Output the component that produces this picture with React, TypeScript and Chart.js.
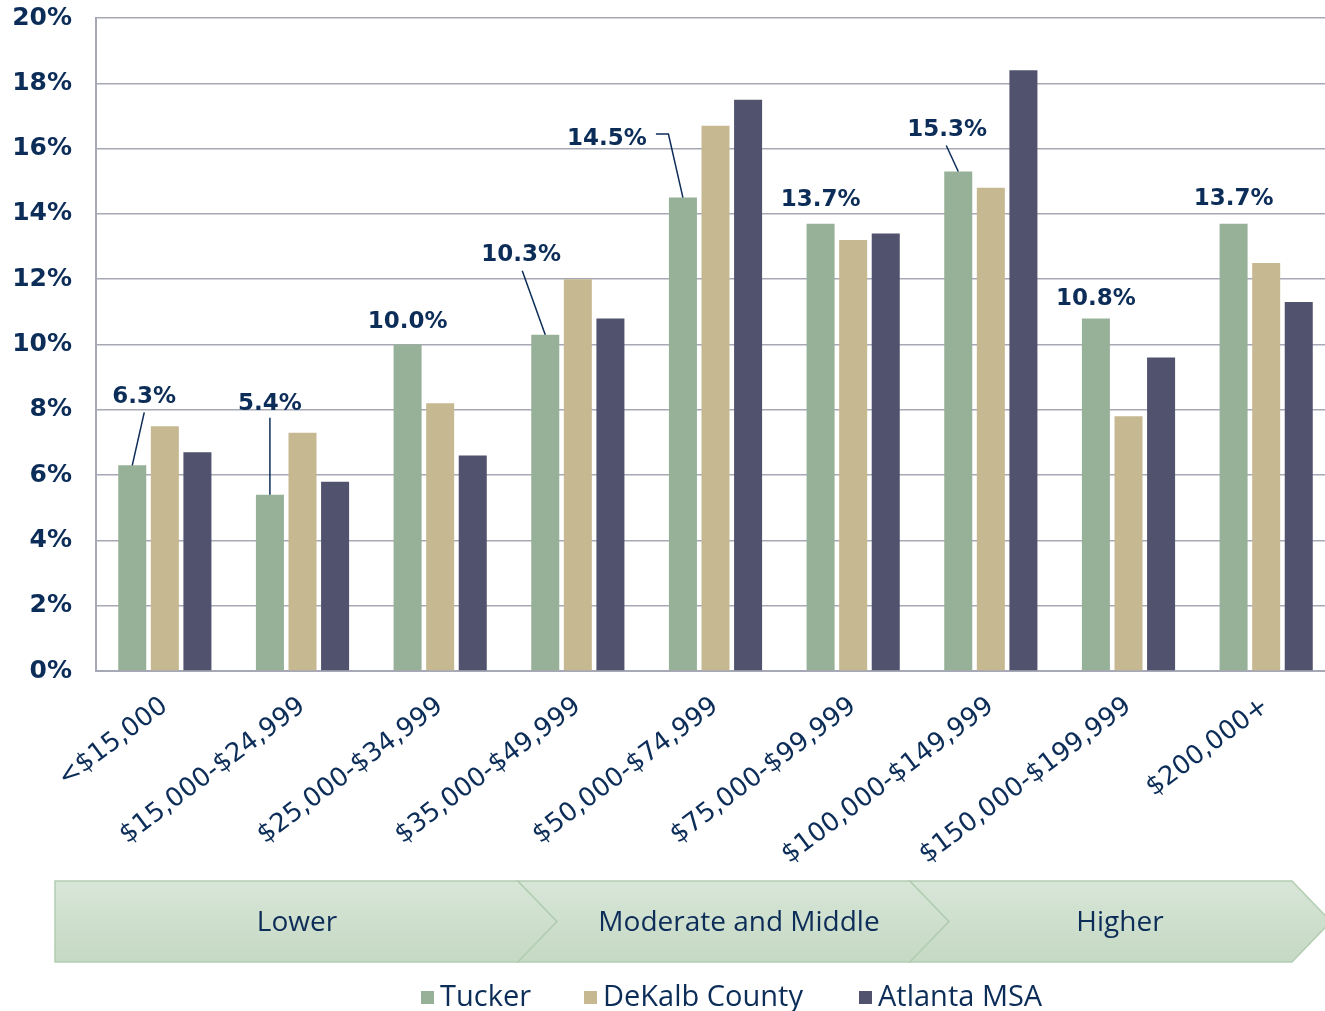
import React, { useEffect, useRef } from "react";
import { Chart, registerables } from "chart.js";

Chart.register(...registerables);

const categories = [
  "<$15,000",
  "$15,000-$24,999",
  "$25,000-$34,999",
  "$35,000-$49,999",
  "$50,000-$74,999",
  "$75,000-$99,999",
  "$100,000-$149,999",
  "$150,000-$199,999",
  "$200,000+",
];
const seriesNames = ["Tucker", "DeKalb County", "Atlanta MSA"];
const tucker = [6.3, 5.4, 10.0, 10.3, 14.5, 13.7, 15.3, 10.8, 13.7];
const dekalb = [7.5, 7.3, 8.2, 12.0, 16.7, 13.2, 14.8, 7.8, 12.5];
const atlanta = [6.7, 5.8, 6.6, 10.8, 17.5, 13.4, 18.4, 9.6, 11.3];
const yMin = 0;
const yMax = 20;
const yStep = 2;
const bandLabels = ["Lower", "Moderate and Middle", "Higher"];

const NAVY = "#0C2D58";
const COLORS = ["#97B098", "#C6B891", "#51526D"];
const GRID = "#A7A8B6";

// label placement relative to Tucker bar top (styling only)
const labelMarks: { dx: number; dy: number; line?: number[][] }[] = [
  { dx: 12, dy: -70, line: [[0, 0], [12, -53]] },
  { dx: 0, dy: -93, line: [[0, 0], [0, -77]] },
  { dx: 0, dy: -25 },
  { dx: -24, dy: -82, line: [[0, 0], [-23, -64]] },
  { dx: -76, dy: -61, line: [[0, 0], [-14.5, -63.5], [-27, -63.5]] },
  { dx: 0, dy: -26 },
  { dx: -11, dy: -43, line: [[0, 0], [-12, -26]] },
  { dx: 0, dy: -21 },
  { dx: 0, dy: -27 },
];

const overlayPlugin = {
  id: "overlay",
  afterDraw(chart: any) {
    const ctx = chart.ctx as CanvasRenderingContext2D;
    ctx.save();
    // data labels for Tucker
    const meta = chart.getDatasetMeta(0);
    ctx.font = "bold 23px 'DejaVu Sans'";
    ctx.fillStyle = NAVY;
    ctx.strokeStyle = NAVY;
    ctx.lineWidth = 1.5;
    ctx.textAlign = "center";
    ctx.textBaseline = "alphabetic";
    meta.data.forEach((bar: any, i: number) => {
      const m = labelMarks[i];
      const bx = bar.x;
      const by = bar.y;
      if (m.line) {
        ctx.beginPath();
        m.line.forEach((p, k) => {
          if (k === 0) ctx.moveTo(bx + p[0], by + p[1]);
          else ctx.lineTo(bx + p[0], by + p[1]);
        });
        ctx.stroke();
      }
      const v = chart.data.datasets[0].data[i] as number;
      ctx.fillText(v.toFixed(1) + "%", bx + m.dx, by + m.dy + 8);
    });

    // income bands (chevrons)
    const top = 881;
    const bot = 962;
    const mid = (top + bot) / 2;
    const shapes = [
      { l: 55, r: 518, notch: false, tip: 557 },
      { l: 518, r: 910, notch: true, tip: 949 },
      { l: 910, r: 1292, notch: true, tip: 1331 },
    ];
    const centers = [297, 739, 1120];
    shapes.forEach((s, i) => {
      const g = ctx.createLinearGradient(0, top, 0, bot);
      g.addColorStop(0, "#D8E6D8");
      g.addColorStop(1, "#C5D9C3");
      ctx.beginPath();
      ctx.moveTo(s.l, top);
      ctx.lineTo(s.r, top);
      ctx.lineTo(s.tip, mid);
      ctx.lineTo(s.r, bot);
      ctx.lineTo(s.l, bot);
      if (s.notch) ctx.lineTo(s.l + (s.tip - s.r), mid);
      ctx.closePath();
      ctx.fillStyle = g;
      ctx.fill();
      ctx.strokeStyle = "#B2CDB1";
      ctx.lineWidth = 1.5;
      ctx.stroke();
      ctx.fillStyle = NAVY;
      ctx.font = "28px 'Open Sans'";
      ctx.textAlign = "center";
      ctx.textBaseline = "middle";
      ctx.fillText(bandLabels[i], centers[i], mid + 2);
    });

    // legend
    const legendX = [421, 584, 859];
    const ly = 998;
    ctx.font = "29px 'Open Sans'";
    ctx.textAlign = "left";
    ctx.textBaseline = "middle";
    chart.data.datasets.forEach((ds: any, i: number) => {
      ctx.fillStyle = ds.backgroundColor;
      ctx.fillRect(legendX[i], ly - 7, 13, 13);
      ctx.fillStyle = NAVY;
      ctx.fillText(ds.label, legendX[i] + 19, ly);
    });
    ctx.restore();
  },
};

export default function App() {
  const ref = useRef<HTMLCanvasElement | null>(null);
  useEffect(() => {
    document.body.style.margin = "0";
    const canvas = ref.current;
    if (!canvas) return;
    const chart = new Chart(canvas, {
      type: "bar",
      data: {
        labels: categories,
        datasets: [tucker, dekalb, atlanta].map((d, i) => ({
          label: seriesNames[i],
          data: d,
          backgroundColor: COLORS[i],
          borderWidth: 0,
          categoryPercentage: 0.71,
          barPercentage: 0.86,
        })),
      },
      options: {
        responsive: false,
        animation: false,
        devicePixelRatio: 1,
        layout: { padding: { top: 18, right: 5, left: 0, bottom: 0 } },
        plugins: { legend: { display: false }, tooltip: { enabled: false } },
        scales: {
          x: {
            grid: { display: false, drawTicks: false },
            border: { display: true, color: GRID, width: 2 },
            ticks: {
              autoSkip: false,
              minRotation: 37,
              maxRotation: 37,
              padding: 20,
              color: NAVY,
              font: { family: "'DejaVu Sans'", size: 26 },
            },
            afterFit: (s: any) => {
              s.height = 340;
              s.paddingLeft = 0;
              s.paddingRight = 0;
            },
          },
          y: {
            min: yMin,
            max: yMax,
            ticks: {
              stepSize: yStep,
              padding: 24,
              color: NAVY,
              font: { family: "'DejaVu Sans'", size: 25, weight: "bold" },
              callback: (v: any) => v + "%",
            },
            grid: { color: GRID, lineWidth: 1.5, drawTicks: false },
            border: { display: true, color: GRID, width: 2 },
            afterFit: (s: any) => {
              s.width = 96;
              s.paddingTop = 0;
              s.paddingBottom = 0;
            },
          },
        },
      },
      plugins: [overlayPlugin],
    } as any);
    return () => chart.destroy();
  }, []);
  return (
    <div style={{ position: "relative", width: 1325, height: 1011, overflow: "hidden" }}>
      <canvas ref={ref} width={1340} height={1011} style={{ display: "block" }} />
    </div>
  );
}
